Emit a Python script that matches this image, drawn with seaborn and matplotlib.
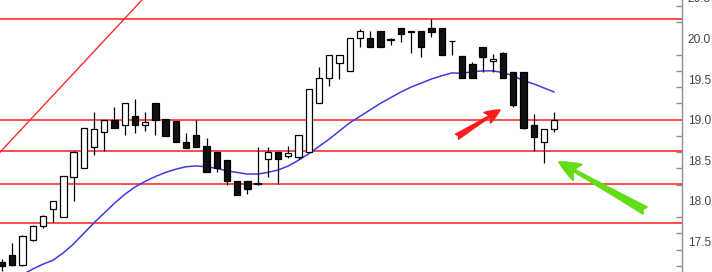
import numpy as np
import pandas as pd
import matplotlib
matplotlib.use("Agg")
import matplotlib.pyplot as plt
from matplotlib.ticker import MultipleLocator
import seaborn as sns

# ---- data ----
opens = [17.25, 17.33, 17.21, 17.52, 17.695, 17.90, 17.80, 18.29, 18.41, 18.66,
         18.85, 19.00, 18.94, 19.05, 18.93, 19.20, 19.01, 18.98, 18.72, 18.81,
         18.67, 18.60, 18.50, 18.25, 18.25, 18.215, 18.51, 18.60, 18.55, 18.54,
         18.60, 19.21, 19.51, 19.70, 19.60, 20.00, 20.00, 20.09, 19.985, 20.13,
         20.09, 20.09, 20.13, 20.13, 19.97, 19.78, 19.69, 19.90, 19.72, 19.815,
         19.59, 19.59, 18.94, 18.72, 18.88]
highs = [17.29, 17.485, 17.58, 17.70, 17.82, 18.00, 18.31, 18.61, 18.90, 19.09,
         19.00, 19.16, 19.20, 19.26, 19.09, 19.21, 19.01, 18.98, 18.84, 19.00,
         18.77, 18.60, 18.50, 18.25, 18.25, 18.66, 18.66, 18.60, 18.67, 18.81,
         19.38, 19.65, 19.80, 19.80, 20.00, 20.11, 20.09, 20.09, 20.00, 20.13,
         20.09, 20.09, 20.235, 20.13, 19.97, 19.78, 19.71, 19.90, 19.81, 19.83,
         19.59, 19.59, 19.07, 18.89, 19.09]
lows = [17.14, 17.20, 17.20, 17.50, 17.66, 17.74, 17.80, 18.00, 18.41, 18.57,
        18.61, 18.90, 18.81, 18.83, 18.86, 18.81, 18.80, 18.73, 18.65, 18.66,
        18.35, 18.35, 18.19, 18.07, 18.09, 18.19, 18.29, 18.21, 18.53, 18.52,
        18.60, 19.21, 19.415, 19.50, 19.60, 19.90, 19.90, 19.90, 19.925, 19.96,
        19.82, 19.77, 20.02, 19.80, 19.80, 19.51, 19.51, 19.59, 19.59, 19.51,
        19.155, 18.88, 18.61, 18.46, 18.85]
closes = [17.20, 17.21, 17.57, 17.695, 17.81, 18.00, 18.31, 18.60, 18.90, 18.88,
          19.00, 18.90, 19.20, 18.94, 18.97, 19.00, 18.80, 18.73, 18.65, 18.66,
          18.35, 18.41, 18.24, 18.07, 18.15, 18.205, 18.60, 18.52, 18.59, 18.81,
          19.38, 19.51, 19.80, 19.80, 20.00, 20.09, 19.90, 19.90, 19.99, 20.05,
          20.085, 19.90, 20.08, 19.80, 19.965, 19.51, 19.51, 19.765, 19.75, 19.51,
          19.185, 18.90, 18.78, 18.89, 19.00]
moving_avg = [16.95, 17.02, 17.09, 17.16, 17.22, 17.27, 17.36, 17.47, 17.60, 17.73,
              17.85, 17.97, 18.08, 18.17, 18.24, 18.30, 18.35, 18.39, 18.42, 18.43,
              18.42, 18.40, 18.37, 18.35, 18.33, 18.33, 18.35, 18.38, 18.43, 18.50,
              18.58, 18.67, 18.76, 18.86, 18.96, 19.04, 19.12, 19.20, 19.27, 19.34,
              19.40, 19.45, 19.50, 19.54, 19.575, 19.57, 19.59, 19.60, 19.60, 19.58,
              19.54, 19.48, 19.44, 19.39, 19.34]
levels = [20.24, 18.99, 18.61, 18.21, 17.73]
trend_x = [-1, 15]
trend_y = [18.49, 20.65]
ytick_labels = ["17.5", "18.0", "18.5", "19.0", "19.5", "20.0", "20.5"]

# ---- figure ----
sns.set_theme(style="white")
plt.rcParams["font.family"] = ["Liberation Sans", "DejaVu Sans"]

fig = plt.figure(figsize=(7.12, 2.72), dpi=100)
ax = fig.add_axes([0, 0, 682 / 712, 274.2 / 272])

df = pd.DataFrame({"idx": np.arange(len(opens)), "open": opens, "high": highs,
                   "low": lows, "close": closes, "ma": moving_avg})

# level lines
for lv in levels:
    ax.axhline(lv, color="#ff1a1a", lw=1.1, zorder=1)
# trend line
ax.plot(trend_x, trend_y, color="#ff2a2a", lw=1.0, zorder=1)

# moving average
sns.lineplot(data=df, x="idx", y="ma", color="#3c3ce0", lw=1.1, ax=ax, zorder=2)

# candles
ax.vlines(df["idx"], df["low"], df["high"], color="black", lw=0.9, zorder=3)
up = df["close"] >= df["open"]
bottoms = np.minimum(df["open"], df["close"])
heights = np.abs(df["close"] - df["open"])
ax.bar(df["idx"][up], heights[up], bottom=bottoms[up], width=0.62,
       color="white", edgecolor="black", linewidth=0.9, zorder=4)
ax.bar(df["idx"][~up], heights[~up], bottom=bottoms[~up], width=0.62,
       color="#111111", edgecolor="black", linewidth=0.9, zorder=4)

# arrows
ax.annotate("", xy=(48.7, 19.12), xytext=(44.5, 18.79),
            arrowprops=dict(arrowstyle="fancy,head_length=0.9,head_width=0.75,tail_width=0.35",
                            color="#ff1a1a", shrinkA=0, shrinkB=0), zorder=5)
ax.annotate("", xy=(54.45, 18.48), xytext=(62.9, 17.88),
            arrowprops=dict(arrowstyle="fancy,head_length=1.3,head_width=1.1,tail_width=0.5",
                            color="#62dd18", shrinkA=0, shrinkB=0), zorder=5)

# axes styling
ax.set_xlim(-0.196, 66.5)
ax.set_ylim(17.124, 20.5)
ax.set_xlabel("")
ax.set_ylabel("")
ax.set_xticks([])
for s in ["top", "left", "bottom"]:
    ax.spines[s].set_visible(False)
ax.spines["right"].set_color("#8f8f8f")
ax.spines["right"].set_linewidth(1.0)
ax.yaxis.tick_right()
ax.set_yticks([17.5, 18.0, 18.5, 19.0, 19.5, 20.0, 20.5])
ax.set_yticklabels(ytick_labels)
ax.yaxis.set_minor_locator(MultipleLocator(0.2))
ax.tick_params(axis="y", which="major", length=0, pad=4, labelsize=8.6,
               labelcolor="#444444", right=True, left=False)
ax.tick_params(axis="y", which="minor", length=4, width=1.0, color="#8f8f8f",
               direction="in", right=True, left=False)
ax.set_facecolor("white")
fig.patch.set_facecolor("white")

fig.savefig("out.png", dpi=100)
